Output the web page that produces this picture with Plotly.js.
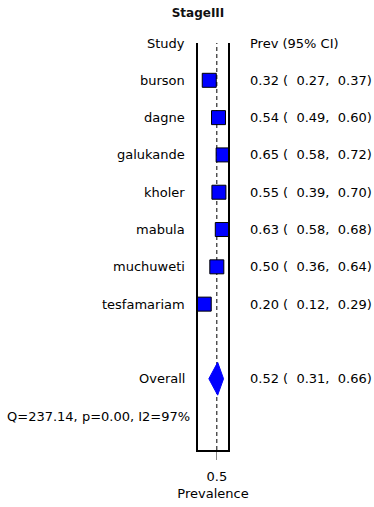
<!DOCTYPE html>
<html>
<head>
<meta charset="utf-8">
<script src="https://cdn.plot.ly/plotly-3.0.1.min.js"></script>
<style>html,body{margin:0;padding:0;background:#fff;}#chart{width:374px;height:507px;}</style>
</head>
<body>
<div id="chart"></div>
<script>
const chartTitle = 'StageIII';
const studies = ['burson', 'dagne', 'galukande', 'kholer', 'mabula', 'muchuweti', 'tesfamariam'];
const prev  = [0.32, 0.54, 0.65, 0.55, 0.63, 0.50, 0.20];
const lower = [0.27, 0.49, 0.58, 0.39, 0.58, 0.36, 0.12];
const upper = [0.37, 0.60, 0.72, 0.70, 0.68, 0.64, 0.29];
const overallLabel = 'Overall';
const overallEst = 0.52;
const overallLower = 0.31;
const overallUpper = 0.66;
const heterogeneity = 'Q=237.14, p=0.00, I2=97%';
const xTickVals = [0.5];
const xTickText = ['0.5'];
const refValue = 0.5;
const xAxisLabel = 'Prevalence';
const headerLeft = 'Study';
const headerRight = 'Prev (95% CI)';

const FONT = 'DejaVu Sans, sans-serif';
const fmt = v => v.toFixed(2);
const ciText = (p, lo, hi) => fmt(p) + ' (  ' + fmt(lo) + ',  ' + fmt(hi) + ')';

const studyRows = studies.map((s, i) => i + 1);
const overallRow = studies.length + 2;
const hetRow = overallRow + 1;

const traces = [];
traces.push({
  type: 'scatter', mode: 'markers',
  x: prev, y: studyRows,
  error_x: {type: 'data', symmetric: false,
    array: prev.map((p, i) => upper[i] - p),
    arrayminus: prev.map((p, i) => p - lower[i]),
    color: '#0000ff', thickness: 1, width: 0},
  marker: {symbol: 'square', size: 14, color: '#0000ff', line: {color: '#000000', width: 1}},
  cliponaxis: true, hoverinfo: 'skip', showlegend: false
});
const dh = 0.44;
traces.push({
  type: 'scatter', mode: 'lines',
  x: [overallLower, overallEst, overallUpper, overallEst, overallLower],
  y: [overallRow, overallRow - dh, overallRow, overallRow + dh, overallRow],
  fill: 'toself', fillcolor: '#0000ff', line: {color: '#0000ff', width: 1},
  hoverinfo: 'skip', showlegend: false
});

const xLeft = -0.367, xHet = -0.2, xRight = 1.683;
const ann = [];
const txt = (text, x, y, anchor) => ({text, x, y, xref: 'paper', yref: 'y', xanchor: anchor, yanchor: 'middle', showarrow: false, font: {family: FONT, size: 13, color: '#000'}});
ann.push(txt(headerLeft, xLeft, 0, 'right'));
ann.push(txt(headerRight, xRight, 0, 'left'));
studies.forEach((s, i) => {
  ann.push(txt(s, xLeft, studyRows[i], 'right'));
  ann.push(txt(ciText(prev[i], lower[i], upper[i]), xRight, studyRows[i], 'left'));
});
ann.push(txt(overallLabel, xLeft, overallRow, 'right'));
ann.push(txt(ciText(overallEst, overallLower, overallUpper), xRight, overallRow, 'left'));
ann.push(txt(heterogeneity, xHet, hetRow, 'right'));

const layout = {
  width: 374, height: 507,
  margin: {l: 198, r: 146, t: 43, b: 57},
  paper_bgcolor: '#fff', plot_bgcolor: '#fff',
  font: {family: FONT, size: 13, color: '#000'},
  title: {text: '<b>' + chartTitle + '</b>', font: {family: FONT, size: 12, color: '#111'},
          x: 0, xref: 'paper', xanchor: 'center', y: 1 - 13 / 507, yref: 'container', yanchor: 'middle'},
  xaxis: {range: [0.052, 0.766], showgrid: false, zeroline: false,
          showline: true, linewidth: 2, linecolor: '#000', mirror: false,
          ticks: 'outside', ticklen: 8, tickwidth: 1, tickcolor: '#888', ticklabelstandoff: 5,
          tickvals: xTickVals, ticktext: xTickText, tickfont: {family: FONT, size: 13, color: '#000'},
          title: {text: xAxisLabel, font: {family: FONT, size: 13, color: '#000'}, standoff: 6}},
  yaxis: {range: [10.91, 0], showgrid: false, zeroline: false, showticklabels: false, ticks: '',
          showline: true, linewidth: 2, linecolor: '#000', mirror: true},
  shapes: [{type: 'line', xref: 'x', yref: 'paper', x0: refValue, x1: refValue, y0: 0, y1: 1,
            line: {color: '#000', width: 1, dash: '4px,3px'}, layer: 'below'}],
  annotations: ann,
  showlegend: false
};
Plotly.newPlot('chart', traces, layout, {displayModeBar: false, staticPlot: true});
</script>
</body>
</html>
